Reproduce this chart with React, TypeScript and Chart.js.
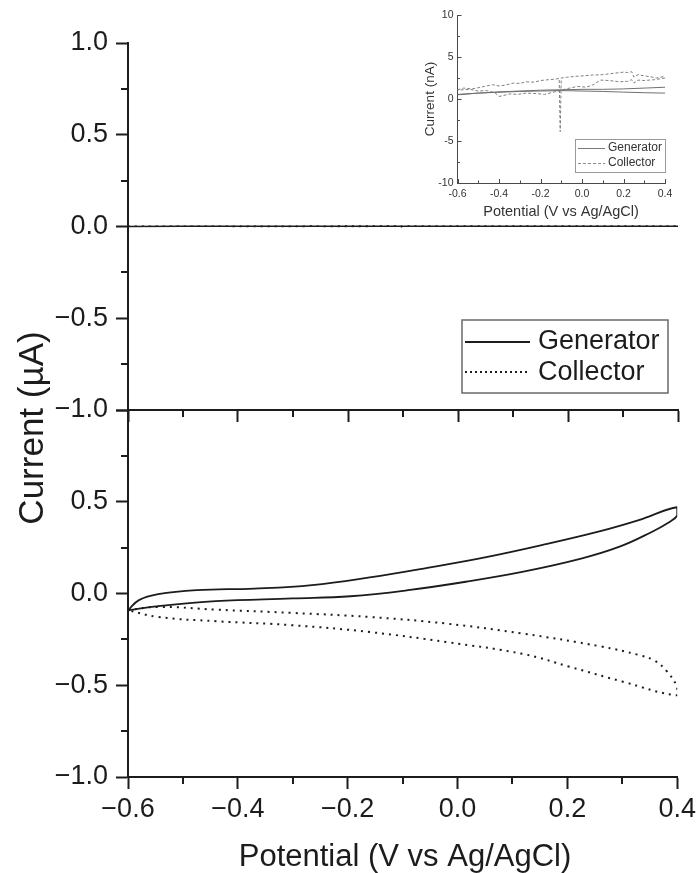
import React, { useEffect, useRef } from 'react';
import { Chart, registerables } from 'chart.js';

Chart.register(...registerables);

// ---------- Main panel data (µA) ----------
const genFwdX = [-0.6, -0.545, -0.44, -0.3, -0.195, -0.09, 0.015, 0.12, 0.225, 0.295, 0.35, 0.386, 0.4];
const genFwdY = [-0.091, -0.069, -0.042, -0.027, -0.015, 0.018, 0.064, 0.119, 0.19, 0.255, 0.33, 0.39, 0.425];
const genRevX = [0.4, 0.33, 0.26, 0.155, 0.05, -0.055, -0.16, -0.265, -0.37, -0.475, -0.545, -0.58, -0.6];
const genRevY = [0.47, 0.4, 0.34, 0.265, 0.197, 0.14, 0.088, 0.046, 0.027, 0.018, -0.004, -0.036, -0.091];

const colFwdX = [-0.6, -0.545, -0.44, -0.3, -0.16, -0.02, 0.12, 0.26, 0.33, 0.358, 0.38, 0.4];
const colFwdY = [-0.091, -0.073, -0.088, -0.106, -0.128, -0.164, -0.219, -0.288, -0.335, -0.365, -0.42, -0.51];
const colRevX = [0.4, 0.3, 0.205, 0.12, -0.02, -0.16, -0.3, -0.44, -0.545, -0.6];
const colRevY = [-0.555, -0.48, -0.4, -0.33, -0.265, -0.21, -0.173, -0.151, -0.128, -0.091];

// ---------- Inset data (nA) ----------
const genInFwdX = [-0.6, -0.5, -0.4, -0.3, -0.2, -0.1, 0.0, 0.1, 0.2, 0.3, 0.4];
const genInFwdY = [0.5, 0.7, 0.85, 0.95, 1.05, 1.1, 1.15, 1.15, 1.2, 1.3, 1.4];
const genInRevX = [0.4, 0.3, 0.2, 0.1, 0.0, -0.1, -0.2, -0.3, -0.4, -0.5, -0.6];
const genInRevY = [0.7, 0.75, 0.82, 0.9, 0.95, 1.0, 0.95, 0.9, 0.8, 0.7, 0.55];

const colInFwdX = [-0.6, -0.57, -0.53, -0.5, -0.47, -0.43, -0.4, -0.37, -0.33, -0.3, -0.27, -0.23, -0.2, -0.16, -0.13, -0.11, -0.105, -0.1, -0.07, -0.03, 0.0, 0.05, 0.1, 0.15, 0.2, 0.22, 0.24, 0.25, 0.27, 0.3, 0.33, 0.36, 0.4];
const colInFwdY = [1.1, 1.3, 1.2, 1.35, 1.5, 1.7, 1.55, 1.65, 1.9, 1.85, 2.05, 2.0, 2.2, 2.3, 2.35, 2.45, -3.9, 2.5, 2.6, 2.7, 2.75, 2.85, 2.9, 3.05, 3.2, 3.15, 3.25, 2.6, 2.9, 2.75, 2.65, 2.5, 2.7];
const colInRevX = [0.4, 0.35, 0.3, 0.27, 0.25, 0.24, 0.22, 0.18, 0.13, 0.09, 0.05, 0.02, -0.02, -0.06, -0.1, -0.14, -0.18, -0.22, -0.27, -0.31, -0.35, -0.38, -0.4, -0.42, -0.46, -0.5, -0.54, -0.6];
const colInRevY = [2.5, 2.3, 2.2, 2.25, 1.9, 2.3, 2.1, 2.05, 2.2, 2.25, 1.65, 1.4, 1.5, 1.3, 1.05, 0.8, 0.55, 0.65, 0.7, 0.55, 0.6, 0.4, 0.3, 0.75, 1.0, 0.95, 1.15, 1.05];

// ---------- Ticks ----------
const xTickValues = [-0.6, -0.4, -0.2, 0, 0.2, 0.4];
const xTickLabels = ['\u22120.6', '\u22120.4', '\u22120.2', '0.0', '0.2', '0.4'];
const xMinorValues = [-0.5, -0.3, -0.1, 0.1, 0.3];
const yTickValues = [-1, -0.5, 0, 0.5, 1];
const yTickLabels = ['\u22121.0', '\u22120.5', '0.0', '0.5', '1.0'];
const yMinorValues = [-0.75, -0.25, 0.25, 0.75];

const inXTickLabels = ['-0.6', '-0.4', '-0.2', '0.0', '0.2', '0.4'];
const inYTickValues = [-10, -5, 0, 5, 10];
const inYTickLabels = ['-10', '-5', '0', '5', '10'];
const inYMinorValues = [-7.5, -2.5, 2.5, 7.5];

const seriesNames = ['Generator', 'Collector'];

const FONT = "'Liberation Sans', Arial, Helvetica, sans-serif";
const INK = '#1c1c1c';

const W = 700;
const H = 873;

function pts(xs: number[], ys: number[], k = 1) {
  return xs.map((x, i) => ({ x, y: ys[i] * k }));
}

function mainChartConfig(kind: 'top' | 'bottom'): any {
  const isTop = kind === 'top';
  const k = isTop ? 0.001 : 1;
  const gen = isTop
    ? [...pts(genInFwdX, genInFwdY, k), ...pts(genInRevX, genInRevY, k)]
    : [...pts(genFwdX, genFwdY), ...pts(genRevX, genRevY)];
  const col = isTop
    ? [...pts(colInFwdX, colInFwdY, k), ...pts(colInRevX, colInRevY, k)]
    : [...pts(colFwdX, colFwdY), ...pts(colRevX, colRevY)];

  const minorPlugin = {
    id: 'minorTicks_' + kind,
    afterDraw(chart: any) {
      const { ctx, chartArea, scales } = chart;
      ctx.save();
      ctx.strokeStyle = INK;
      ctx.lineWidth = 2;
      ctx.beginPath();
      xMinorValues.forEach((v) => {
        const px = Math.round(scales.x.getPixelForValue(v));
        ctx.moveTo(px, chartArea.bottom);
        ctx.lineTo(px, chartArea.bottom + 7);
      });
      yMinorValues.forEach((v) => {
        const py = Math.round(scales.y.getPixelForValue(v));
        ctx.moveTo(chartArea.left - 7, py);
        ctx.lineTo(chartArea.left, py);
      });
      ctx.stroke();

      if (isTop) {
        // legend
        ctx.strokeStyle = '#6a6a6a';
        ctx.lineWidth = 1.5;
        ctx.strokeRect(462, 320, 206, 73);
        ctx.strokeStyle = INK;
        ctx.lineWidth = 1.8;
        ctx.beginPath();
        ctx.moveTo(465, 342);
        ctx.lineTo(530, 342);
        ctx.stroke();
        ctx.setLineDash([2, 3]);
        ctx.beginPath();
        ctx.moveTo(465, 372);
        ctx.lineTo(530, 372);
        ctx.stroke();
        ctx.setLineDash([]);
        ctx.fillStyle = INK;
        ctx.font = `27px ${FONT}`;
        ctx.textAlign = 'left';
        ctx.textBaseline = 'middle';
        ctx.fillText(seriesNames[0], 538, 342);
        ctx.fillText(seriesNames[1], 538, 373);
      } else {
        ctx.fillStyle = INK;
        ctx.font = `31px ${FONT}`;
        ctx.textAlign = 'center';
        ctx.textBaseline = 'alphabetic';
        ctx.fillText('Potential (V vs Ag/AgCl)', 405, 866);
        ctx.translate(43, 428);
        ctx.rotate(-Math.PI / 2);
        ctx.font = `35px ${FONT}`;
        ctx.fillText('Current (\u00b5A)', 0, 0);
      }
      ctx.restore();
    },
  };

  return {
    type: 'scatter',
    data: {
      datasets: [
        {
          label: seriesNames[0],
          data: gen,
          showLine: true,
          borderColor: INK,
          borderWidth: isTop ? 1.5 : 1.8,
          pointRadius: 0,
          tension: isTop ? 0 : 0.4,
          fill: false,
        },
        {
          label: seriesNames[1],
          data: col,
          showLine: true,
          borderColor: INK,
          borderWidth: isTop ? 1.5 : 2,
          borderDash: [2, 5],
          pointRadius: 0,
          tension: isTop ? 0 : 0.4,
          fill: false,
        },
      ],
    },
    plugins: [minorPlugin],
    options: {
      animation: false,
      responsive: false,
      maintainAspectRatio: false,
      events: [],
      layout: {
        padding: isTop
          ? { top: 43, right: 22, left: 0, bottom: H - 410 - 12 }
          : { top: 410, right: 22, left: 0, bottom: 0 },
      },
      plugins: { legend: { display: false }, tooltip: { enabled: false }, title: { display: false } },
      scales: {
        x: {
          type: 'linear',
          min: -0.6,
          max: 0.4,
          afterBuildTicks: (s: any) => {
            s.ticks = xTickValues.map((v) => ({ value: v }));
          },
          afterFit: (s: any) => {
            s.height = isTop ? 12 : 96;
          },
          grid: { display: true, drawOnChartArea: false, drawTicks: true, tickLength: 12, tickWidth: 2, tickColor: INK, color: INK },
          border: { display: true, color: INK, width: 2 },
          ticks: {
            display: !isTop,
            color: INK,
            font: { family: FONT, size: 27 },
            padding: 4,
            maxRotation: 0,
            autoSkip: false,
            callback: (_v: any, i: number) => xTickLabels[i],
          },
        },
        y: {
          type: 'linear',
          min: -1,
          max: 1,
          afterBuildTicks: (s: any) => {
            s.ticks = yTickValues.map((v) => ({ value: v }));
          },
          afterFit: (s: any) => {
            s.width = 128;
          },
          grid: { display: true, drawOnChartArea: false, drawTicks: true, tickLength: 12, tickWidth: 2, tickColor: INK, color: INK },
          border: { display: true, color: INK, width: 2 },
          ticks: {
            color: INK,
            font: { family: FONT, size: 27 },
            padding: 8,
            autoSkip: false,
            callback: (_v: any, i: number) => (!isTop && i === yTickValues.length - 1 ? '' : yTickLabels[i]),
          },
        },
      },
    },
  };
}

function insetConfig(): any {
  const IN_TEXT = '#333';
  const IN_AXIS = '#4a4a4a';
  const plugin = {
    id: 'insetExtras',
    afterDraw(chart: any) {
      const { ctx, chartArea, scales } = chart;
      ctx.save();
      ctx.strokeStyle = IN_AXIS;
      ctx.lineWidth = 1;
      ctx.beginPath();
      xTickValues.forEach((v) => {
        const px = Math.round(scales.x.getPixelForValue(v)) + 0.5;
        ctx.moveTo(px, chartArea.bottom);
        ctx.lineTo(px, chartArea.bottom - 4);
      });
      xMinorValues.forEach((v) => {
        const px = Math.round(scales.x.getPixelForValue(v)) + 0.5;
        ctx.moveTo(px, chartArea.bottom);
        ctx.lineTo(px, chartArea.bottom - 2.5);
      });
      inYTickValues.forEach((v) => {
        const py = Math.round(scales.y.getPixelForValue(v)) + 0.5;
        ctx.moveTo(chartArea.left, py);
        ctx.lineTo(chartArea.left + 4, py);
      });
      inYMinorValues.forEach((v) => {
        const py = Math.round(scales.y.getPixelForValue(v)) + 0.5;
        ctx.moveTo(chartArea.left, py);
        ctx.lineTo(chartArea.left + 2.5, py);
      });
      ctx.stroke();

      // legend
      ctx.strokeStyle = '#9a9a9a';
      ctx.lineWidth = 1;
      ctx.strokeRect(175.5, 139.5, 90, 33);
      ctx.strokeStyle = '#777';
      ctx.beginPath();
      ctx.moveTo(178, 148.5);
      ctx.lineTo(205, 148.5);
      ctx.stroke();
      ctx.strokeStyle = '#888';
      ctx.setLineDash([3, 2]);
      ctx.beginPath();
      ctx.moveTo(178, 163.5);
      ctx.lineTo(205, 163.5);
      ctx.stroke();
      ctx.setLineDash([]);
      ctx.fillStyle = IN_TEXT;
      ctx.font = `12px ${FONT}`;
      ctx.textAlign = 'left';
      ctx.textBaseline = 'middle';
      ctx.fillText(seriesNames[0], 208, 148);
      ctx.fillText(seriesNames[1], 208, 163);

      // titles
      ctx.font = `14.5px ${FONT}`;
      ctx.textAlign = 'center';
      ctx.fillText('Potential (V vs Ag/AgCl)', 161, 212);
      ctx.translate(30, 99);
      ctx.rotate(-Math.PI / 2);
      ctx.font = `13.5px ${FONT}`;
      ctx.fillText('Current (nA)', 0, 0);
      ctx.restore();
    },
  };

  const genStyle = { showLine: true, borderColor: '#707070', borderWidth: 1, pointRadius: 0, tension: 0 };
  const colStyle = { showLine: true, borderColor: '#808080', borderWidth: 1, borderDash: [3, 2], pointRadius: 0, tension: 0 };

  return {
    type: 'scatter',
    data: {
      datasets: [
        { label: seriesNames[0], data: pts(genInFwdX, genInFwdY), ...genStyle },
        { label: seriesNames[0], data: pts(genInRevX, genInRevY), ...genStyle },
        { label: seriesNames[1], data: pts(colInFwdX, colInFwdY), ...colStyle },
        { label: seriesNames[1], data: pts(colInRevX, colInRevY), ...colStyle },
      ],
    },
    plugins: [plugin],
    options: {
      animation: false,
      responsive: false,
      maintainAspectRatio: false,
      events: [],
      layout: { padding: { top: 15, right: 35, left: 0, bottom: 240 - 183 - 20 } },
      plugins: { legend: { display: false }, tooltip: { enabled: false } },
      scales: {
        x: {
          type: 'linear',
          min: -0.6,
          max: 0.4,
          afterBuildTicks: (s: any) => {
            s.ticks = xTickValues.map((v) => ({ value: v }));
          },
          afterFit: (s: any) => {
            s.height = 20;
          },
          grid: { display: false, drawTicks: false },
          border: { display: true, color: IN_AXIS, width: 1 },
          ticks: {
            color: IN_TEXT,
            font: { family: FONT, size: 10.5 },
            padding: 5,
            maxRotation: 0,
            autoSkip: false,
            callback: (_v: any, i: number) => inXTickLabels[i],
          },
        },
        y: {
          type: 'linear',
          min: -10,
          max: 10,
          afterBuildTicks: (s: any) => {
            s.ticks = inYTickValues.map((v) => ({ value: v }));
          },
          afterFit: (s: any) => {
            s.width = 57.5;
          },
          grid: { display: false, drawTicks: false },
          border: { display: true, color: IN_AXIS, width: 1 },
          ticks: {
            color: IN_TEXT,
            font: { family: FONT, size: 10.5 },
            padding: 4,
            autoSkip: false,
            callback: (_v: any, i: number) => inYTickLabels[i],
          },
        },
      },
    },
  };
}

function ChartCanvas({ config, width, height, style }: { config: () => any; width: number; height: number; style: any }) {
  const ref = useRef<HTMLCanvasElement | null>(null);
  useEffect(() => {
    if (!ref.current) return;
    const chart = new Chart(ref.current, config());
    return () => chart.destroy();
  }, []);
  return <canvas ref={ref} width={width} height={height} style={{ position: 'absolute', width, height, ...style }} />;
}

export default function App() {
  return (
    <div style={{ position: 'absolute', left: 0, top: 0, width: W, height: H, background: '#fff', overflow: 'hidden' }}>
      <ChartCanvas config={() => mainChartConfig('top')} width={W} height={H} style={{ left: 0, top: 0 }} />
      <ChartCanvas config={() => mainChartConfig('bottom')} width={W} height={H} style={{ left: 0, top: 0 }} />
      <ChartCanvas config={insetConfig} width={300} height={240} style={{ left: 400, top: 0 }} />
    </div>
  );
}
